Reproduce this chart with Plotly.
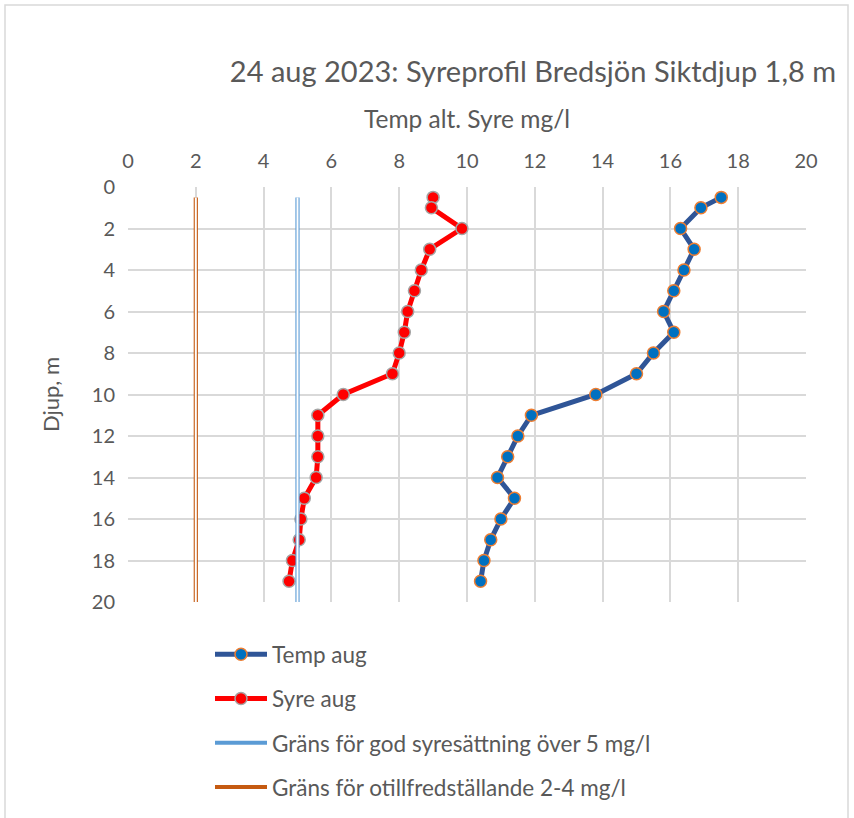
import plotly.graph_objects as go

depth = [0.5, 1, 2, 3, 4, 5, 6, 7, 8, 9, 10, 11, 12, 13, 14, 15, 16, 17, 18, 19]
temp_aug = [17.5, 16.9, 16.3, 16.7, 16.4, 16.1, 15.8, 16.1, 15.5, 15.0, 13.8, 11.9, 11.5, 11.2, 10.9, 11.4, 11.0, 10.7, 10.5, 10.4]
syre_aug = [9.0, 8.95, 9.85, 8.9, 8.65, 8.45, 8.25, 8.15, 8.0, 7.8, 6.35, 5.6, 5.6, 5.6, 5.55, 5.2, 5.1, 5.05, 4.85, 4.75]
limit_depth = [0.5, 20]
god_limit = [5, 5]
otill_limit = [2, 2]

FONT = "Lato, Noto Sans, sans-serif"
TXT = "#595959"

fig = go.Figure()

fig.add_trace(go.Scatter(
    x=temp_aug, y=depth, mode="lines+markers", name="Temp aug",
    line=dict(color="#2F5597", width=5),
    marker=dict(size=12, color="#0070C0", line=dict(color="#ED7D31", width=1.5)),
    legendgroup="a"))
fig.add_trace(go.Scatter(
    x=syre_aug, y=depth, mode="lines+markers", name="Syre aug",
    line=dict(color="#FF0000", width=5),
    marker=dict(size=12, color="#FF0000", line=dict(color="#A5A5A5", width=1.5)),
    legendgroup="b"))
fig.add_trace(go.Scatter(
    x=god_limit, y=limit_depth, mode="lines", name="Gräns för god syresättning över 5 mg/l",
    line=dict(color="#5B9BD5", width=4.2), legendgroup="c"))
fig.add_trace(go.Scatter(
    x=god_limit, y=limit_depth, mode="lines", showlegend=False,
    line=dict(color="white", width=2), legendgroup="c", hoverinfo="skip"))
fig.add_trace(go.Scatter(
    x=otill_limit, y=limit_depth, mode="lines", name="Gräns för otillfredställande 2-4 mg/l",
    line=dict(color="#C55A11", width=4.2), legendgroup="d"))
fig.add_trace(go.Scatter(
    x=otill_limit, y=limit_depth, mode="lines", showlegend=False,
    line=dict(color="white", width=2), legendgroup="d", hoverinfo="skip"))

fig.update_layout(
    width=854, height=818,
    paper_bgcolor="white", plot_bgcolor="white",
    margin=dict(l=128, r=48, t=187, b=216, autoexpand=False),
    font=dict(family=FONT, color=TXT, size=20),
    title=dict(text="24 aug 2023: Syreprofil Bredsjön Siktdjup 1,8 m",
               x=533 / 854, xanchor="center", y=1 - 72 / 818, yanchor="middle",
               font=dict(size=29, color=TXT)),
    xaxis=dict(range=[0, 20], dtick=2, side="top", showgrid=True,
               gridcolor="#D9D9D9", gridwidth=1.5, zeroline=False,
               showline=False, ticks="", ticklabelstandoff=14,
               title=dict(text="Temp alt. Syre mg/l", font=dict(size=24.5), standoff=12),
               tickfont=dict(size=20)),
    yaxis=dict(range=[20, 0], dtick=2, showgrid=True,
               gridcolor="#D9D9D9", gridwidth=1.5, zeroline=False,
               showline=False, ticks="", ticklabelstandoff=12,
               title=dict(text="Djup, m", font=dict(size=22), standoff=26),
               tickfont=dict(size=20)),
    legend=dict(orientation="v", x=(210 - 128) / 678, xanchor="left",
                y=-0.075, yanchor="top",
                tracegroupgap=12, font=dict(size=22.5, color=TXT),
                itemwidth=52, bgcolor="rgba(0,0,0,0)"),
    showlegend=True,
    shapes=[dict(type="rect", xref="paper", yref="paper",
                 x0=(5 - 128) / 678, x1=(848 - 128) / 678,
                 y0=-0.56, y1=(602 - 5) / 415,
                 line=dict(color="#D9D9D9", width=1.5), fillcolor="rgba(0,0,0,0)",
                 layer="below")],
)

fig.write_html("out.html", config={"displayModeBar": False},
               post_script="document.body.style.margin='0px';")
